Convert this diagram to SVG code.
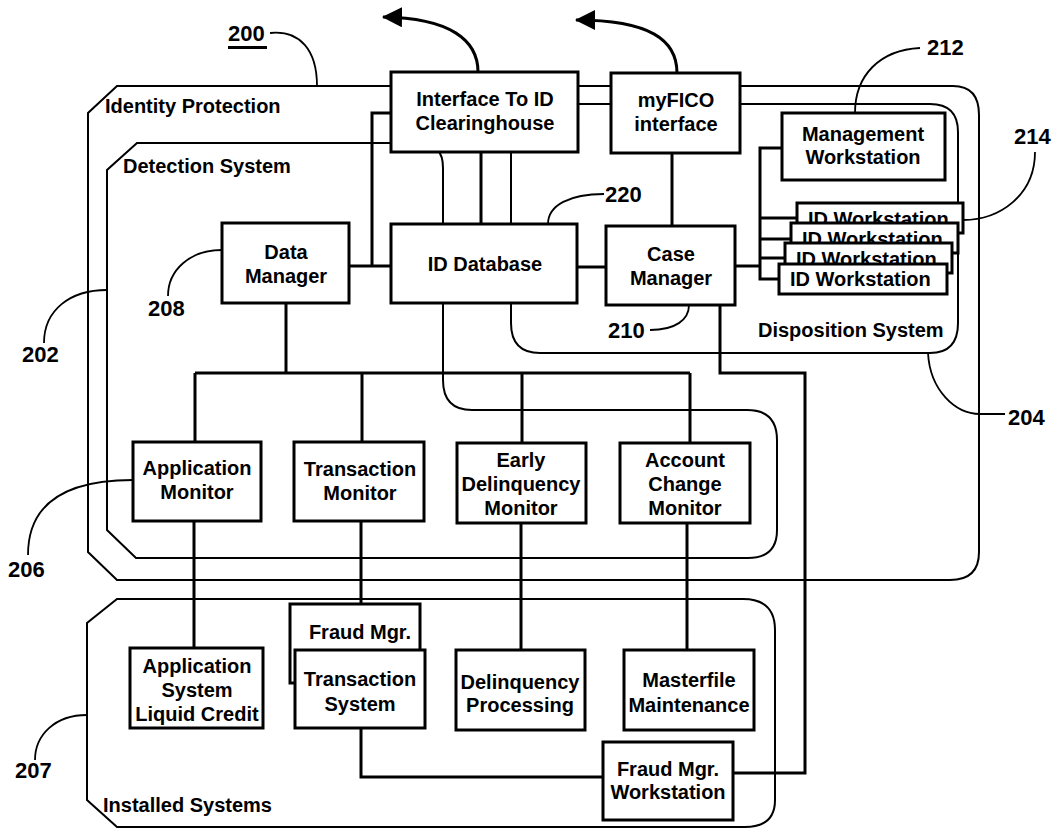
<svg xmlns="http://www.w3.org/2000/svg" width="1056" height="830" viewBox="0 0 1056 830">
<defs>
<style>
.box{fill:#fff;stroke:#000;stroke-width:3}
.region{fill:none;stroke:#000;stroke-width:2}
.conn{fill:none;stroke:#000;stroke-width:3}
.thin{fill:none;stroke:#000;stroke-width:2}
.lead{fill:none;stroke:#000;stroke-width:1.8}
text{font-family:"Liberation Sans",Arial,sans-serif;font-weight:bold;font-size:20px;fill:#000}
.c{text-anchor:middle}
.num{font-size:22px}
</style>
<marker id="arr" viewBox="0 0 20 20" refX="19" refY="10" markerWidth="20" markerHeight="20" markerUnits="userSpaceOnUse" orient="auto">
<path d="M0,0 L20,10 L0,20 Z" fill="#000"/>
</marker>
</defs>
<rect width="1056" height="830" fill="#fff"/>

<g id="regions">
<path id="identity-protection" class="region" d="M117,86 L953,86 Q979,86 979,115 L979,552 Q979,580 950,580 L117,580 L88,552 L88,113 Z"/>
<path id="detection-system" class="region" d="M137,143 L420,143 Q443,143 443,168 L443,380 Q443,410 472,410 L747,410 Q777,410 777,440 L777,530 Q777,558 748,558 L136,558 L107,530 L107,170 Z"/>
<path id="disposition-system" class="region" d="M578,104 L930,104 Q958,104 958,132 L958,323 Q958,353 930,353 L540,353 Q511,353 511,323 L511,150"/>
<path id="installed-systems" class="region" d="M117,599 L743,599 Q775,599 775,630 L775,800 Q775,827 745,827 L117,827 L87,800 L87,623 Z"/>
<text x="105" y="113">Identity Protection</text>
<text x="123" y="173">Detection System</text>
<text x="758" y="337">Disposition System</text>
<text x="103" y="812">Installed Systems</text>
</g>

<g id="connectors">
<path class="conn" d="M391,113 L372,113 L372,267"/>
<path class="conn" d="M349,266 L391,266"/>
<path class="conn" d="M481,152 L481,224"/>
<path class="conn" d="M672,153 L672,226"/>
<path class="conn" d="M577,267 L606,267"/>
<path class="conn" d="M735,266 L760,266"/>
<path class="conn" d="M782,148 L760,148 L760,279 L779,279"/>
<path class="conn" d="M760,218 L797,218 M760,239 L791,239 M760,258 L785,258"/>
<path class="conn" d="M286,303 L286,373"/>
<path class="conn" d="M195,373 L690,373"/>
<path class="conn" d="M195,373 L195,442 M362,373 L362,442 M522,373 L522,443 M690,373 L690,443"/>
<path class="conn" d="M194,521 L194,648 M361,521 L361,604 M521,523 L521,650 M687,523 L687,650"/>
<path class="conn" d="M361,728 L361,777 L603,777"/>
<path class="conn" d="M720,305 L720,373 L805,373 L805,773 L733,773"/>
<path class="conn" d="M478,72 C478,40 450,18 383,17" marker-end="url(#arr)"/>
<path class="conn" d="M677,73 C677,40 650,20 576,20" marker-end="url(#arr)"/>
</g>

<g id="leaders">
<path class="lead" d="M270,33 C300,30 317,50 317,86"/>
<path class="lead" d="M920,48 C880,50 855,75 855,113"/>
<path class="lead" d="M1035,152 C1035,195 1000,220 963,220"/>
<path class="lead" d="M604,194 C570,194 548,205 548,224"/>
<path class="lead" d="M168,296 C168,270 190,250 222,250"/>
<path class="lead" d="M650,330 C675,330 689,320 689,305"/>
<path class="lead" d="M44,343 C44,310 70,290 107,290"/>
<path class="lead" d="M928,353 C930,390 955,414 980,414 L1005,414"/>
<path class="lead" d="M28,555 C28,500 70,480 133,480"/>
<path class="lead" d="M35,760 C35,735 55,715 87,715"/>
<text class="num" x="228" y="41">200</text>
<rect x="228" y="46" width="39" height="3" fill="#000"/>
<text class="num" x="927" y="55">212</text>
<text class="num" x="1014" y="144">214</text>
<text class="num" x="605" y="202">220</text>
<text class="num" x="148" y="316">208</text>
<text class="num" x="608" y="338">210</text>
<text class="num" x="22" y="362">202</text>
<text class="num" x="1008" y="425">204</text>
<text class="num" x="8" y="577">206</text>
<text class="num" x="15" y="778">207</text>
</g>

<g id="interface-id-clearinghouse">
<rect class="box" x="391" y="72" width="187" height="80"/>
<text class="c" x="485" y="106">Interface To ID</text>
<text class="c" x="485" y="130">Clearinghouse</text>
</g>
<g id="myfico-interface">
<rect class="box" x="611" y="73" width="129" height="80"/>
<text class="c" x="676" y="107">myFICO</text>
<text class="c" x="676" y="131">interface</text>
</g>
<g id="management-workstation">
<rect class="box" x="782" y="113" width="163" height="67"/>
<text class="c" x="863" y="141">Management</text>
<text class="c" x="863" y="164">Workstation</text>
</g>
<g id="id-workstation-1">
<rect class="box" x="797" y="203" width="166" height="30"/>
<text x="808" y="226">ID Workstation</text>
</g>
<g id="id-workstation-2">
<rect class="box" x="791" y="223" width="167" height="30"/>
<text x="802" y="246">ID Workstation</text>
</g>
<g id="id-workstation-3">
<rect class="box" x="785" y="243" width="167" height="30"/>
<text x="796" y="266">ID Workstation</text>
</g>
<g id="id-workstation-4">
<rect class="box" x="779" y="264" width="168" height="30"/>
<text x="790" y="286">ID Workstation</text>
</g>
<g id="data-manager">
<rect class="box" x="222" y="223" width="127" height="80"/>
<text class="c" x="286" y="259">Data</text>
<text class="c" x="286" y="283">Manager</text>
</g>
<g id="id-database">
<rect class="box" x="391" y="224" width="186" height="79"/>
<text class="c" x="485" y="271">ID Database</text>
</g>
<g id="case-manager">
<rect class="box" x="606" y="226" width="129" height="79"/>
<text class="c" x="671" y="261">Case</text>
<text class="c" x="671" y="285">Manager</text>
</g>
<g id="application-monitor">
<rect class="box" x="133" y="442" width="128" height="79"/>
<text class="c" x="197" y="475">Application</text>
<text class="c" x="197" y="499">Monitor</text>
</g>
<g id="transaction-monitor">
<rect class="box" x="294" y="442" width="130" height="79"/>
<text class="c" x="360" y="476">Transaction</text>
<text class="c" x="360" y="500">Monitor</text>
</g>
<g id="early-delinquency-monitor">
<rect class="box" x="457" y="443" width="129" height="80"/>
<text class="c" x="521" y="467">Early</text>
<text class="c" x="521" y="491">Delinquency</text>
<text class="c" x="521" y="515">Monitor</text>
</g>
<g id="account-change-monitor">
<rect class="box" x="620" y="443" width="130" height="80"/>
<text class="c" x="685" y="467">Account</text>
<text class="c" x="685" y="491">Change</text>
<text class="c" x="685" y="515">Monitor</text>
</g>
<g id="application-system">
<rect class="box" x="130" y="648" width="133" height="80"/>
<text class="c" x="197" y="673">Application</text>
<text class="c" x="197" y="697">System</text>
<text class="c" x="197" y="721">Liquid Credit</text>
</g>
<g id="fraud-mgr">
<rect class="box" x="290" y="604" width="130" height="79"/>
<text class="c" x="360" y="639">Fraud Mgr.</text>
</g>
<g id="transaction-system">
<rect class="box" x="295" y="650" width="130" height="78"/>
<text class="c" x="360" y="686">Transaction</text>
<text class="c" x="360" y="711">System</text>
</g>
<g id="delinquency-processing">
<rect class="box" x="456" y="650" width="129" height="80"/>
<text class="c" x="520" y="689">Delinquency</text>
<text class="c" x="520" y="712">Processing</text>
</g>
<g id="masterfile-maintenance">
<rect class="box" x="624" y="650" width="130" height="80"/>
<text class="c" x="689" y="687">Masterfile</text>
<text class="c" x="689" y="712">Maintenance</text>
</g>
<g id="fraud-mgr-workstation">
<rect class="box" x="603" y="742" width="130" height="78"/>
<text class="c" x="668" y="776">Fraud Mgr.</text>
<text class="c" x="668" y="799">Workstation</text>
</g>
</svg>
